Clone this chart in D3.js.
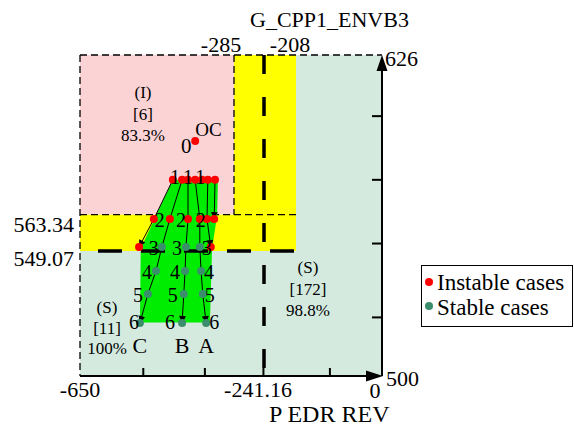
<!DOCTYPE html>
<html><head><meta charset="utf-8">
<script src="https://cdn.jsdelivr.net/npm/d3@7"></script>
<style>html,body{margin:0;padding:0;background:#fff;} svg{display:block;}</style>
</head><body><svg id="c" width="574" height="427"></svg>
<script>
// ---------- data ----------
const xBreaks = [-650, -285, -241.16, -208, 0];
const yBreaks = [500, 549.07, 563.34, 626];
const xBreakLabels = ["-650", "-285", "-241.16", "-208", "0"];
const yBreakLabels = ["500", "549.07", "563.34", "626"];
const xMinorTicks = [-500, -354, -242, -126];
const yMinorTicks = [602, 577, 552, 523];
const xTitle = "P EDR REV";
const yTitle = "G_CPP1_ENVB3";
const stepLevels = [577, 561.6, 550.6, 541.2, 532.2, 520.8];
const stepNames = ["1", "2", "3", "4", "5", "6"];
const trajC = [-408, -437, -456, -470, -489, -508];
const trajB = [-394, -394, -399, -401, -404, -408];
const trajA = [-377, -366, -366, -363, -359, -351];
const trajNames = ["C", "B", "A"];
const stableFromStep = 2;
const trajI1 = [-430, -475, -510];
const trajI2 = [-347, -349, -340];
const trajI3 = [-330, -332];
const extraInstableX = [-361];
const extraInstableY = [577];
const ocPoint = [-377, 592.2];
const ocLabel = "OC";
const ocStep = "0";
const envelopeX = [-430, -323, -325, -337, -342, -508, -506];
const envelopeY = [577, 577, 563, 550, 521, 521, 550];
const regionI = ["(I)", "[6]", "83.3%"];
const regionS1 = ["(S)", "[172]", "98.8%"];
const regionS2 = ["(S)", "[11]", "100%"];
const legendLabels = ["Instable cases", "Stable cases"];

// ---------- scales ----------
const x = d3.scaleLinear().domain(xBreaks).range([80, 234, 264, 296, 382]);
const y = d3.scaleLinear().domain([yBreaks[0], yBreaks[3]]).range([376, 55]);

const RED = "#ff0000", GRN = "#3b8e6c";
const PINK = "#fbd3d5", YEL = "#ffff00", LGRN = "#d4eadf", BRIGHT = "#00ec00";
const FONT = "'Liberation Serif', 'Times New Roman', 'DejaVu Serif', serif";

const svg = d3.select("#c");
const defs = svg.append("defs");
defs.append("marker").attr("id", "ah").attr("viewBox", "0 0 10 10")
  .attr("refX", 10).attr("refY", 5).attr("markerWidth", 8).attr("markerHeight", 7)
  .attr("markerUnits", "userSpaceOnUse").attr("orient", "auto")
  .append("path").attr("d", "M0,0 L10,5 L0,10 Z").attr("fill", "#000");

const g = svg.append("g");
const rect = (x0, x1, y0, y1, fill) => g.append("rect")
  .attr("x", x(x0)).attr("y", y(y1)).attr("width", x(x1) - x(x0)).attr("height", y(y0) - y(y1)).attr("fill", fill);

// regions
rect(xBreaks[3], xBreaks[4], yBreaks[0], yBreaks[3], LGRN);
rect(xBreaks[0], xBreaks[3], yBreaks[0], yBreaks[1], LGRN);
rect(xBreaks[0], xBreaks[1], yBreaks[2], yBreaks[3], PINK);
rect(xBreaks[1], xBreaks[3], yBreaks[1], yBreaks[3], YEL);
rect(xBreaks[0], xBreaks[3], yBreaks[1], yBreaks[2], YEL);

// thin dashed lines
const thin = (x1, y1, x2, y2) => g.append("line")
  .attr("x1", x1).attr("y1", y1).attr("x2", x2).attr("y2", y2)
  .attr("stroke", "#000").attr("stroke-width", 1.3).attr("stroke-dasharray", "7,4");
thin(x(xBreaks[0]), y(yBreaks[3]), x(xBreaks[4]), y(yBreaks[3]));
thin(x(xBreaks[0]), y(yBreaks[3]), x(xBreaks[0]), y(yBreaks[0]));
thin(x(xBreaks[1]), y(yBreaks[3]), x(xBreaks[1]), y(yBreaks[2]));
thin(x(xBreaks[0]), y(yBreaks[2]), x(xBreaks[3]), y(yBreaks[2]));

// green envelope
g.append("path")
  .attr("d", d3.line()(envelopeX.map((v, i) => [x(v), y(envelopeY[i])])) + "Z")
  .attr("fill", BRIGHT);

// thick dashed lines
g.append("line").attr("x1", x(xBreaks[0])).attr("x2", x(xBreaks[3]))
  .attr("y1", y(yBreaks[1])).attr("y2", y(yBreaks[1]))
  .attr("stroke", "#000").attr("stroke-width", 3.5).attr("stroke-dasharray", "24,19").attr("stroke-dashoffset", 25);
g.append("line").attr("x1", x(xBreaks[2])).attr("x2", x(xBreaks[2]))
  .attr("y1", y(yBreaks[3])).attr("y2", y(yBreaks[0]))
  .attr("stroke", "#000").attr("stroke-width", 3.5).attr("stroke-dasharray", "19,23");

// axes
const X0 = x(xBreaks[4]), Y0 = y(yBreaks[0]), YT = y(yBreaks[3]);
g.append("line").attr("x1", x(xBreaks[0])).attr("x2", X0 - 10)
  .attr("y1", Y0).attr("y2", Y0).attr("stroke", "#000").attr("stroke-width", 2);
g.append("line").attr("x1", X0).attr("x2", X0)
  .attr("y1", Y0).attr("y2", YT + 10).attr("stroke", "#000").attr("stroke-width", 2);
g.append("path").attr("d", `M${X0 + 1},${Y0} L${X0 - 16},${Y0 - 5.5} L${X0 - 16},${Y0 + 5.5} Z`).attr("fill", "#000");
g.append("path").attr("d", `M${X0},${YT} L${X0 - 5.5},${YT + 16} L${X0 + 5.5},${YT + 16} Z`).attr("fill", "#000");
xMinorTicks.forEach(v => g.append("line").attr("x1", x(v)).attr("x2", x(v)).attr("y1", Y0).attr("y2", Y0 - 8).attr("stroke", "#000").attr("stroke-width", 2));
yMinorTicks.forEach(v => g.append("line").attr("x1", X0).attr("x2", X0 - 10).attr("y1", y(v)).attr("y2", y(v)).attr("stroke", "#000").attr("stroke-width", 2));

// trajectories
const lineGen = d3.line();
const drawTraj = (xs) => g.append("path")
  .attr("d", lineGen(xs.map((v, i) => [x(v), y(stepLevels[i])])))
  .attr("fill", "none").attr("stroke", "#000").attr("stroke-width", 1).attr("marker-end", "url(#ah)");
[trajC, trajB, trajA, trajI1, trajI2, trajI3].forEach(drawTraj);

// points
const pts = [];
[trajC, trajB, trajA].forEach(t => t.forEach((v, i) => pts.push([v, stepLevels[i], i >= stableFromStep])));
[trajI1, trajI2, trajI3].forEach(t => t.forEach((v, i) => pts.push([v, stepLevels[i], false])));
extraInstableX.forEach((v, i) => pts.push([v, extraInstableY[i], false]));
pts.push([ocPoint[0], ocPoint[1], false]);
g.selectAll("circle.p").data(pts).enter().append("circle")
  .attr("cx", d => x(d[0])).attr("cy", d => y(d[1])).attr("r", 4)
  .attr("fill", d => d[2] ? GRN : RED);

// step labels
const offs = [[-7, 0, 5], [-10, -7, 1], [-8, -9, 7], [-9, -10, 8], [-10, -11, 7], [-6, -12, 8]];
[trajC, trajB, trajA].forEach((t, k) => t.forEach((v, i) => {
  g.append("text").attr("x", x(v) + offs[i][k]).attr("y", y(stepLevels[i]) + (i === 0 ? 4 : (i === 5 ? 6 : 8)))
    .attr("text-anchor", "middle").attr("font-size", 20).text(stepNames[i]);
}));
[trajC, trajB, trajA].forEach((t, k) => {
  g.append("text").attr("x", x(t[t.length - 1])).attr("y", y(stepLevels[t.length - 1]) + 30)
    .attr("text-anchor", "middle").attr("font-size", 22).text(trajNames[k]);
});
g.append("text").attr("x", x(ocPoint[0])).attr("y", y(ocPoint[1]) - 5).attr("font-size", 19).text(ocLabel);
g.append("text").attr("x", x(ocPoint[0]) - 9).attr("y", y(ocPoint[1]) + 12).attr("text-anchor", "middle").attr("font-size", 21).text(ocStep);

// region annotations
const block = (lines, cx, ys, fs) => lines.forEach((t, i) => g.append("text")
  .attr("x", cx).attr("y", ys[i]).attr("text-anchor", "middle").attr("font-size", fs).text(t));
block(regionI, 143, [98, 120, 141], 17);
block(regionS1, 308, [273, 295, 316], 17);
block(regionS2, 107, [313, 334, 354], 17);

// tick / break labels
const FS = 22;
const tx = (t, xx, yy, anchor, fs) => g.append("text").attr("x", xx).attr("y", yy)
  .attr("text-anchor", anchor).attr("font-size", fs || FS).text(t);
tx(xBreakLabels[0], x(xBreaks[0]), 397, "middle");
tx(xBreakLabels[1], x(xBreaks[1]) - 13, 52, "middle");
tx(xBreakLabels[2], x(xBreaks[2]) - 6, 397, "middle");
tx(xBreakLabels[3], x(xBreaks[3]) - 6, 52, "middle");
tx(xBreakLabels[4], x(xBreaks[4]) - 7, 398, "middle");
tx(yBreakLabels[0], X0 + 4, 386, "start");
tx(yBreakLabels[1], 74, y(yBreaks[1]) + 15, "end");
tx(yBreakLabels[2], 74, y(yBreaks[2]) + 17, "end");
tx(yBreakLabels[3], X0 + 3, 66, "start");
tx(yTitle, 250, 27, "start");
tx(xTitle, 269, 422, "start", 24);

// legend
const lg = svg.append("g");
lg.append("rect").attr("x", 421.5).attr("y", 265.5).attr("width", 151).attr("height", 61)
  .attr("fill", "#fff").attr("stroke", "#000").attr("stroke-width", 1);
[[RED, 282, 290], [GRN, 306, 315]].forEach((d, i) => {
  lg.append("circle").attr("cx", 429).attr("cy", d[1]).attr("r", 4).attr("fill", d[0]);
  lg.append("text").attr("x", 437).attr("y", d[2]).attr("font-size", 23).text(legendLabels[i]);
});

svg.selectAll("text").attr("font-family", FONT).attr("fill", "#000");
</script></body></html>
